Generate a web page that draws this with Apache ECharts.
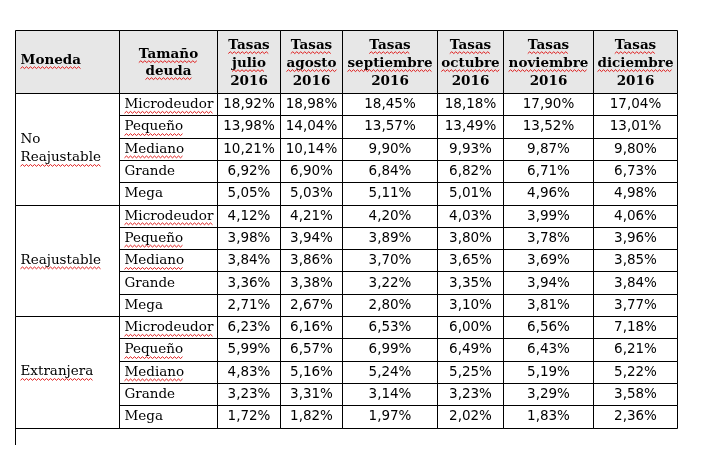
<!DOCTYPE html>
<html><head><meta charset="utf-8">
<script src="https://cdn.jsdelivr.net/npm/echarts@6/dist/echarts.min.js"></script>
<style>html,body{margin:0;padding:0;background:#fff}#chart{width:704px;height:460px}</style>
</head><body><div id="chart"></div>
<script>
// ---------- data ----------
const monedas = ['No Reajustable', 'Reajustable', 'Extranjera'];
const tamanos = ['Microdeudor', 'Pequeño', 'Mediano', 'Grande', 'Mega'];
const meses = ['julio', 'agosto', 'septiembre', 'octubre', 'noviembre', 'diciembre'];
const anio = '2016';
const tituloMoneda = 'Moneda';
const tituloTamano = ['Tamaño', 'deuda'];
const prefijoTasas = 'Tasas';

const tasasNoReajustable = [
  [18.92, 18.98, 18.45, 18.18, 17.90, 17.04],
  [13.98, 14.04, 13.57, 13.49, 13.52, 13.01],
  [10.21, 10.14, 9.90, 9.93, 9.87, 9.80],
  [6.92, 6.90, 6.84, 6.82, 6.71, 6.73],
  [5.05, 5.03, 5.11, 5.01, 4.96, 4.98]
];
const tasasReajustable = [
  [4.12, 4.21, 4.20, 4.03, 3.99, 4.06],
  [3.98, 3.94, 3.89, 3.80, 3.78, 3.96],
  [3.84, 3.86, 3.70, 3.65, 3.69, 3.85],
  [3.36, 3.38, 3.22, 3.35, 3.94, 3.84],
  [2.71, 2.67, 2.80, 3.10, 3.81, 3.77]
];
const tasasExtranjera = [
  [6.23, 6.16, 6.53, 6.00, 6.56, 7.18],
  [5.99, 6.57, 6.99, 6.49, 6.43, 6.21],
  [4.83, 5.16, 5.24, 5.25, 5.19, 5.22],
  [3.23, 3.31, 3.14, 3.23, 3.29, 3.58],
  [1.72, 1.82, 1.97, 2.02, 1.83, 2.36]
];
// words marked by the spell checker (red wavy underline)
const palabrasSubrayadas = ['Moneda', 'Tamaño', 'deuda', 'Tasas', 'julio', 'agosto', 'septiembre',
  'octubre', 'noviembre', 'diciembre', 'Microdeudor', 'Pequeño', 'Mediano', 'Reajustable', 'Extranjera'];

// ---------- layout / style ----------
const anchosColumna = [104, 98, 63, 62, 95, 66, 90, 84];
const altoEncabezado = 63;
const altoFila = 22.3;
const altoResto = 17;
const colorEncabezado = '#e7e7e7';
const fuenteEnc = 'bold 13.5px "DejaVu Serif", serif';
const fuenteSerif = '13.5px "DejaVu Serif", serif';
const fuenteNum = '13.5px "DejaVu Sans", sans-serif';

const tasasPorMoneda = [tasasNoReajustable, tasasReajustable, tasasExtranjera];
const bordes = [0];
anchosColumna.forEach(w => bordes.push(bordes[bordes.length - 1] + w));
const totalAncho = bordes[bordes.length - 1];
const nFilas = monedas.length * tamanos.length;
const totalAlto = altoEncabezado + nFilas * altoFila;
const fmt = v => v.toFixed(2).replace('.', ',') + '%';

const celdas = [];
// header
celdas.push({c0: 0, c1: 1, y0: 0, y1: altoEncabezado, lines: [tituloMoneda], align: 'left', font: fuenteEnc, fs: 13.5, lh: 17, dy: -1.5, bg: colorEncabezado});
celdas.push({c0: 1, c1: 2, y0: 0, y1: altoEncabezado, lines: tituloTamano, align: 'center', font: fuenteEnc, fs: 13.5, lh: 17, dy: 1, bg: colorEncabezado});
meses.forEach((m, i) => {
  celdas.push({c0: 2 + i, c1: 3 + i, y0: 0, y1: altoEncabezado, lines: [prefijoTasas, m, anio], align: 'center', font: fuenteEnc, fs: 13.5, lh: 18, dy: 1.5, bg: colorEncabezado});
});
// body
monedas.forEach((mon, g) => {
  const gy0 = altoEncabezado + g * tamanos.length * altoFila;
  celdas.push({c0: 0, c1: 1, y0: gy0, y1: gy0 + tamanos.length * altoFila, lines: mon.split(' '), align: 'left', font: fuenteSerif, fs: 13.5, lh: 18, dy: 0, bg: '#fff'});
  tamanos.forEach((t, k) => {
    const y0 = gy0 + k * altoFila;
    celdas.push({c0: 1, c1: 2, y0: y0, y1: y0 + altoFila, lines: [t], align: 'left', font: fuenteSerif, fs: 13.5, lh: 18, dy: 0.5, bg: '#fff'});
    tasasPorMoneda[g][k].forEach((v, j) => {
      celdas.push({c0: 2 + j, c1: 3 + j, y0: y0, y1: y0 + altoFila, lines: [fmt(v)], align: 'center', font: fuenteNum, fs: 13.5, lh: 18, dy: 0.5, bg: '#fff'});
    });
  });
});
// stub of the next (cut-off) row: left border only
celdas.push({c0: 0, c1: 0, y0: totalAlto, y1: totalAlto + altoResto, stub: true});

const ctx = document.createElement('canvas').getContext('2d');
function medir(font, text) { ctx.font = font; return ctx.measureText(text).width; }

function renderItem(params, api) {
  const c = celdas[params.dataIndex];
  const a = api.coord([api.value(0), api.value(2)]);
  const b = api.coord([api.value(1), api.value(3)]);
  const x0 = Math.round(a[0]), y0 = Math.round(a[1]), x1 = Math.round(b[0]), y1 = Math.round(b[1]);
  const children = [];
  if (c.stub) {
    children.push({type: 'line', shape: {x1: x0 + 0.5, y1: y0, x2: x0 + 0.5, y2: y1}, style: {stroke: '#000', lineWidth: 1}, z2: 20});
    return {type: 'group', children};
  }
  children.push({type: 'rect', shape: {x: x0, y: y0, width: x1 - x0, height: y1 - y0}, style: {fill: c.bg}, z2: 0});
  children.push({type: 'rect', shape: {x: x0 + 0.5, y: y0 + 0.5, width: x1 - x0, height: y1 - y0}, style: {fill: 'none', stroke: '#000', lineWidth: 1}, z2: 20});
  const n = c.lines.length;
  const cy = (a[1] + b[1]) / 2 + c.dy;
  const tx = c.align === 'left' ? x0 + 5.5 : (x0 + x1) / 2 + 0.5;
  c.lines.forEach((ln, i) => {
    const ly = cy + (i - (n - 1) / 2) * c.lh;
    children.push({type: 'text', style: {text: ln, x: tx, y: ly, align: c.align, verticalAlign: 'middle', font: c.font, fill: '#000'}, z2: 30});
    if (palabrasSubrayadas.indexOf(ln) >= 0) {
      const w = medir(c.font, ln);
      const sx = c.align === 'left' ? tx : tx - w / 2;
      const by = ly + c.fs * 0.36 + 2.8;
      const pts = [];
      let k = 0;
      for (let dx = 0; dx <= w; dx += 2, k++) pts.push([sx + dx, by + (k % 2 ? -0.9 : 0.9)]);
      children.push({type: 'polyline', shape: {points: pts}, style: {stroke: '#e01b1b', lineWidth: 1, fill: null}, z2: 31});
    }
  });
  return {type: 'group', children};
}

const chart = echarts.init(document.getElementById('chart'), null, {renderer: 'canvas'});
chart.setOption({
  animation: false,
  backgroundColor: '#fff',
  grid: {left: 15, top: 30, width: totalAncho, height: totalAlto},
  xAxis: {type: 'value', min: 0, max: totalAncho, show: false},
  yAxis: {type: 'value', min: 0, max: totalAlto, inverse: true, show: false},
  series: [{
    type: 'custom',
    renderItem: renderItem,
    clip: false,
    data: celdas.map(c => [bordes[c.c0], bordes[c.c1], c.y0, c.y1])
  }]
});
</script>
</body></html>
